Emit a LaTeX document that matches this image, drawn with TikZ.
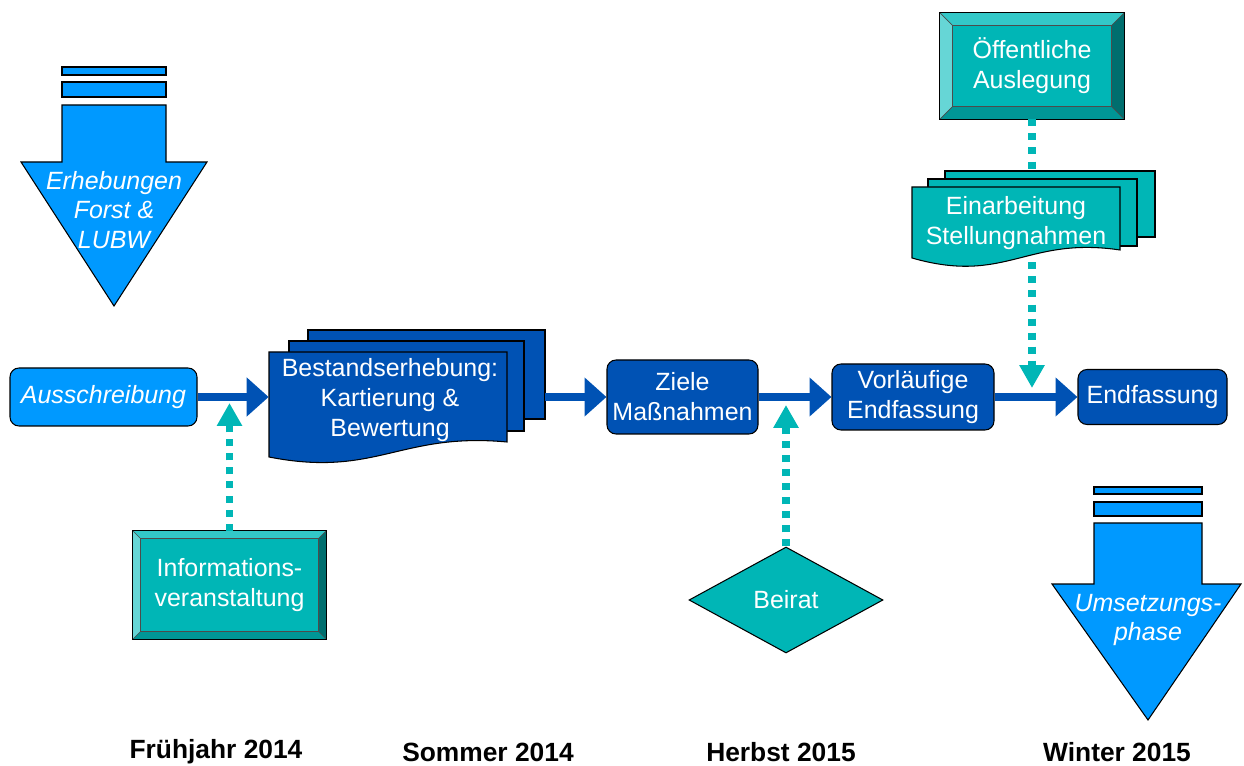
\documentclass[tikz,border=0pt]{standalone}
\usepackage{fontspec}
\setmainfont{Liberation Sans}
\usetikzlibrary{arrows.meta,shapes.geometric}
\newdimen\pxu \pxu=0.02cm
\definecolor{dblue}{RGB}{0,82,180}
\definecolor{lblue}{RGB}{0,153,255}
\definecolor{teal1}{RGB}{0,182,182}
\definecolor{bvL}{RGB}{102,214,214}
\definecolor{bvT}{RGB}{51,200,200}
\definecolor{bvR}{RGB}{0,110,110}
\definecolor{bvB}{RGB}{0,150,150}
\tikzset{
 txt/.style={text=white, font=\fontsize{14.2}{17}\selectfont, align=center},
 itxt/.style={txt, font=\fontsize{14.2}{17}\selectfont\itshape},
 outl/.style={draw=black, line width=0.6pt},
 rbox/.style={txt, outl, rounded corners=9\pxu, fill=dblue, inner sep=0},
 mainarrow/.style={draw=dblue, line width=4pt, -{Triangle[length=12.5pt,width=21.5pt]}},
 dotline/.style={draw=teal1, line width=4pt, dash pattern=on 4pt off 4pt},
 dotarrow/.style={dotline, -{Triangle[length=13pt,width=13.6pt]}},
 period/.style={font=\fontsize{15}{18}\selectfont\bfseries},
}
\newcommand\bevel[2]{%
 \fill[bvL] (#1.north west) -- ([shift={(#2,-#2)}]#1.north west) -- ([shift={(#2,#2)}]#1.south west) -- (#1.south west) -- cycle;
 \fill[bvT] (#1.north west) -- (#1.north east) -- ([shift={(-#2,-#2)}]#1.north east) -- ([shift={(#2,-#2)}]#1.north west) -- cycle;
 \fill[bvR] (#1.north east) -- (#1.south east) -- ([shift={(-#2,#2)}]#1.south east) -- ([shift={(-#2,-#2)}]#1.north east) -- cycle;
 \fill[bvB] (#1.south west) -- ([shift={(#2,#2)}]#1.south west) -- ([shift={(-#2,#2)}]#1.south east) -- (#1.south east) -- cycle;
 \draw[draw=black!70, line width=0.4pt] ([shift={(#2,-#2)}]#1.north west) rectangle ([shift={(-#2,#2)}]#1.south east);
 \draw[draw=black!70, line width=0.4pt] (#1.north west) -- ([shift={(#2,-#2)}]#1.north west)
   (#1.north east) -- ([shift={(-#2,-#2)}]#1.north east)
   (#1.south west) -- ([shift={(#2,#2)}]#1.south west)
   (#1.south east) -- ([shift={(-#2,#2)}]#1.south east);
 \draw[outl] (#1.north west) rectangle (#1.south east);
}
\begin{document}
\begin{tikzpicture}[x=0.02cm, y=-0.02cm]
\useasboundingbox (0,0) rectangle (1244,766);

% big arrow left
\filldraw[fill=lblue, outl] (62,67) rectangle (166,75);
\filldraw[fill=lblue, outl] (62,82) rectangle (166,97);
\filldraw[fill=lblue, outl] (62,105) -- (166,105) -- (166,162) -- (207,162) -- (114,306) -- (21,162) -- (62,162) -- cycle;
\node[itxt] (erh) at (114,210) {Erhebungen\\Forst \&\\LUBW};

% big arrow right
\filldraw[fill=lblue, outl] (1094,487) rectangle (1202,494);
\filldraw[fill=lblue, outl] (1094,502) rectangle (1202,516);
\filldraw[fill=lblue, outl] (1094,523) -- (1202,523) -- (1202,584) -- (1241,584) -- (1148,720) -- (1052,584) -- (1094,584) -- cycle;
\node[itxt] (ums) at (1148,620) {Umsetzungs-\\phase};

% main nodes
\node[rbox, fill=lblue, font=\fontsize{14.2}{17}\selectfont\itshape, minimum width=187\pxu, minimum height=58\pxu] (aus) at (103.5,397) {Ausschreibung};
\node[minimum width=276\pxu, minimum height=134\pxu, inner sep=0] (best) at (407,397) {};
\node[rbox, minimum width=151\pxu, minimum height=74\pxu] (zm) at (682.5,397) {Ziele\\Maßnahmen};
\node[rbox, minimum width=162\pxu, minimum height=66\pxu] (vor) at (913,397) {Vorläufige\\Endfassung};
\node[rbox, minimum width=149\pxu, minimum height=55\pxu] (end) at (1152.5,397) {Endfassung};

% multi document: Bestandserhebung
\filldraw[fill=dblue, outl] (308,330) rectangle (545,419);
\filldraw[fill=dblue, outl] (289,341) rectangle (524,431);
\filldraw[fill=dblue, outl] (269,457) -- (269,352) -- (507,352) -- (507,442) .. controls (400,432) and (376,478) .. (269,457) -- cycle;
\node[txt] (bestT) at (390,400) {Bestandserhebung:\\Kartierung \&\\Bewertung};

% bevel boxes
\node[txt, fill=teal1, minimum width=193\pxu, minimum height=108\pxu, inner sep=0] (info) at (229.5,585) {Informations-\\veranstaltung};
\bevel{info}{8\pxu}
\node[txt, fill=teal1, minimum width=184\pxu, minimum height=106\pxu, inner sep=0] (oeff) at (1032,66) {Öffentliche\\Auslegung};
\bevel{oeff}{13\pxu}

% multi document: Einarbeitung
\node[minimum width=243\pxu, minimum height=91\pxu, inner sep=0] (ein) at (1033.5,216.5) {};
\filldraw[fill=teal1, outl] (945,171) rectangle (1155,237);
\filldraw[fill=teal1, outl] (928,179) rectangle (1137,246);
\filldraw[fill=teal1, outl] (912,258) -- (912,187) -- (1120,187) -- (1120,250) .. controls (1026,236) and (1006,285) .. (912,258) -- cycle;
\node[txt] (einT) at (1016,223) {Einarbeitung\\Stellungnahmen};

% Beirat
\node[diamond, aspect=1.83, fill=teal1, outl, txt, minimum width=194\pxu, minimum height=106\pxu, inner sep=0] (beirat) at (786,600) {Beirat};

% main connectors
\draw[mainarrow] (aus.east) -- (best.west);
\draw[mainarrow] (best.east) -- (zm.west);
\draw[mainarrow] (zm.east) -- (vor.west);
\draw[mainarrow] (vor.east) -- (end.west);

% dotted connectors
\coordinate (tI) at (225,403);
\draw[dotarrow] (info.north) -- (info.north |- tI);
\coordinate (tB) at (784,405);
\draw[dotarrow] (beirat.north) -- (beirat.north |- tB);
\draw[dotline] (oeff.south) -- (oeff.south |- ein.north);
\coordinate (tE) at (1032,388);
\draw[dotarrow] (ein.south -| oeff.south) -- (tE);

% periods
\node[period] (p1) at (216,752) {Frühjahr 2014};
\node[period] (p2) at (488,752) {Sommer 2014};
\node[period] (p3) at (781,752) {Herbst 2015};
\node[period] (p4) at (1117,752) {Winter 2015};
\end{tikzpicture}
\end{document}
